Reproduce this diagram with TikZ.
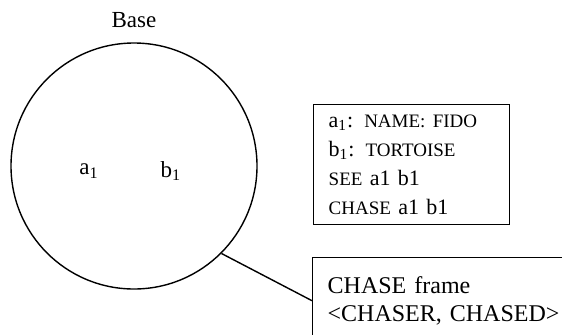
\documentclass[tikz,border=0pt]{standalone}
\usepackage{fontspec}
\setmainfont{Liberation Serif}
\newcommand{\sm}[1]{{\fontsize{9.5}{11}\selectfont #1}}

\begin{document}
\begin{tikzpicture}[x=0.5pt,y=-0.5pt,line width=0.7pt,
  panel/.style={draw,anchor=north west,align=left,inner xsep=7.5pt}]
\clip (0,0) rectangle (562,334);
\node[circle,draw,minimum size=123pt,inner sep=0pt] (base) at (134,166) {};
\node[font=\fontsize{11.5}{13}\selectfont] (basename) at (134,20) {Base};
\node[font=\fontsize{11.5}{13}\selectfont] (a) at (89,171) {a\textsubscript{1}};
\node[font=\fontsize{11.5}{13}\selectfont] (b) at (171,171) {b\textsubscript{1}};
\node[panel,font=\fontsize{11}{14.5}\selectfont,text width=83pt,minimum height=60pt] (facts) at (313,104)
  {a\textsubscript{1}:\sm{ NAME: FIDO}\\
   b\textsubscript{1}:\sm{ TORTOISE}\\
   \sm{SEE} a1 b1\\
   \sm{CHASE} a1 b1};
\node[panel,font=\fontsize{12}{14}\selectfont,text width=135pt,minimum height=43pt] (frame) at (312,257)
  {CHASE frame\\<CHASER, CHASED>};
\draw (base.-45) -- (frame.west);
\end{tikzpicture}
\end{document}
